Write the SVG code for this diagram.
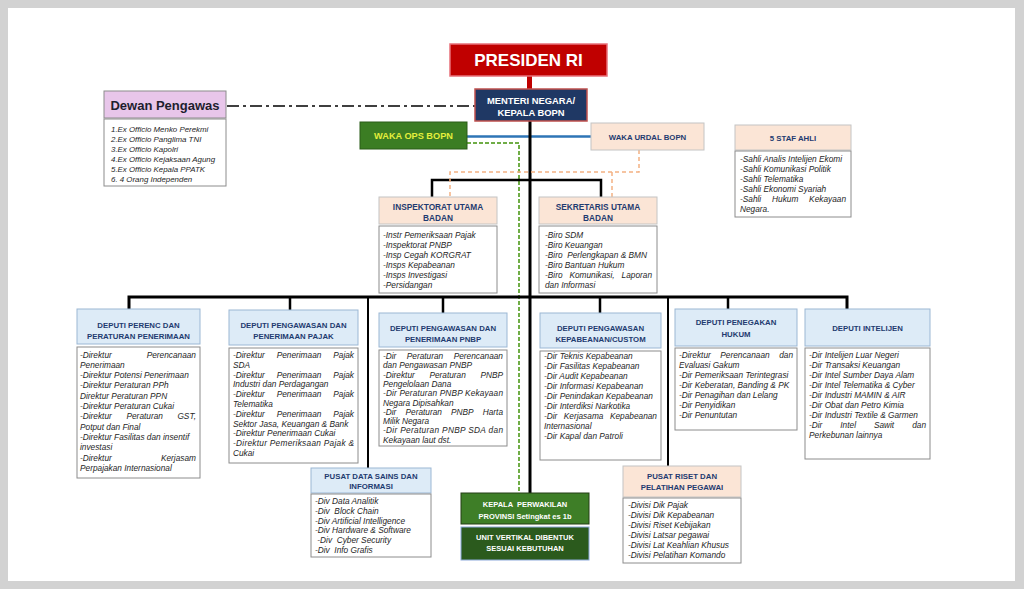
<svg xmlns="http://www.w3.org/2000/svg" width="1024" height="589" viewBox="0 0 1024 589">
<style>
.hb{fill:#ddebf7;stroke:#9bb7d4;stroke-width:1}
.hp{fill:#fbe5d6;stroke:#c4c4c4;stroke-width:1}
.lb{fill:#fff;stroke:#8c8c8c;stroke-width:1}
.ht{font-family:"Liberation Sans",Arial,sans-serif;font-weight:bold;font-size:7.8px;fill:#1f3b70;text-anchor:middle}
.ht2{font-family:"Liberation Sans",Arial,sans-serif;font-weight:bold;font-size:8.3px;fill:#1f3b70;text-anchor:middle}
.wt{font-family:"Liberation Sans",Arial,sans-serif;font-weight:bold;fill:#fff;text-anchor:middle}
.lt{font-family:"Liberation Sans",Arial,sans-serif;font-style:italic;font-size:8.3px;fill:#262626;white-space:pre}
.dl{font-family:"Liberation Sans",Arial,sans-serif;font-style:italic;font-size:7.9px;fill:#262626;white-space:pre}
.m{text-anchor:middle}
.e{text-anchor:end}
.k{stroke:#000;fill:none}
</style>
<rect x="0" y="0" width="1024" height="589" fill="#d2d2d2"/>
<rect x="8" y="8" width="1007" height="573" fill="#fff"/>

<g id="connectors">
  <line x1="529.5" y1="76" x2="529.5" y2="89" stroke="#c00000" stroke-width="5"/>
  <line x1="227" y1="106" x2="475" y2="106" stroke="#000" stroke-width="1.3" stroke-dasharray="12 4 3 4"/>
  <line x1="467" y1="136.5" x2="591" y2="136.5" stroke="#2e75b6" stroke-width="2.5"/>
  <line class="k" x1="530" y1="121" x2="530" y2="493" stroke-width="3"/>
  <polyline points="467,143 519,143 519,493" fill="none" stroke="#70ad47" stroke-width="2" stroke-dasharray="4 2"/>
  <polyline class="k" points="432,197 432,180 601,180 601,197" stroke-width="2.5"/>
  <polyline points="639,150 639,172 450,172 450,197" fill="none" stroke="#f4b183" stroke-width="1.5" stroke-dasharray="4 3"/>
  <line x1="612" y1="172" x2="612" y2="197" stroke="#f4b183" stroke-width="1.5" stroke-dasharray="4 3"/>
  <polyline class="k" points="129,309 129,297 847,297 847,309" stroke-width="3"/>
  <line class="k" x1="290" y1="297" x2="290" y2="310" stroke-width="2.5"/>
  <line class="k" x1="443" y1="297" x2="443" y2="313" stroke-width="2.5"/>
  <line class="k" x1="600" y1="297" x2="600" y2="313" stroke-width="2.5"/>
  <line class="k" x1="728" y1="297" x2="728" y2="309" stroke-width="2.5"/>
  <line class="k" x1="368" y1="297" x2="368" y2="468" stroke-width="2"/>
  <line class="k" x1="668" y1="297" x2="668" y2="466" stroke-width="2"/>
</g>

<g id="presiden">
  <rect x="450" y="44" width="157" height="32" fill="#c00000" stroke="#e8707a" stroke-width="1.5"/>
  <text class="wt" x="528.5" y="66" font-size="17">PRESIDEN RI</text>
</g>

<g id="menteri">
  <rect x="475" y="89" width="112" height="32" fill="#1f3864" stroke="#c0504d" stroke-width="1.5"/>
  <text class="wt" x="531" y="103.5" font-size="9.4">MENTERI NEGARA/</text>
  <text class="wt" x="531" y="115.5" font-size="9.4">KEPALA BOPN</text>
</g>

<g id="dewan">
  <rect x="104" y="91" width="122" height="27" fill="#e8c6ea" stroke="#8c8c8c"/>
  <text x="165" y="110" font-family="Liberation Sans,Arial,sans-serif" font-weight="bold" font-size="13" fill="#1e1e2e" text-anchor="middle">Dewan Pengawas</text>
  <rect class="lb" x="104" y="119" width="122" height="67"/>
  <text class="dl" x="111" y="132">1.Ex Officio Menko Perekmi</text>
  <text class="dl" x="111" y="142">2.Ex Officio Panglima TNI</text>
  <text class="dl" x="111" y="152">3.Ex Officio Kapolri</text>
  <text class="dl" x="111" y="162">4.Ex Officio Kejaksaan Agung</text>
  <text class="dl" x="111" y="172">5.Ex Officio Kepala PPATK</text>
  <text class="dl" x="111" y="182">6. 4 Orang Independen</text>
</g>

<g id="waka-ops">
  <rect x="360" y="122" width="107" height="27" fill="#3b7d23" stroke="#2a5c18"/>
  <text x="413.5" y="139" font-family="Liberation Sans,Arial,sans-serif" font-weight="bold" font-size="9.2" fill="#e4ef3c" text-anchor="middle">WAKA OPS BOPN</text>
</g>

<g id="waka-urdal">
  <rect class="hp" x="591" y="123" width="113" height="27"/>
  <text class="ht" x="647.5" y="140" font-size="9.5">WAKA URDAL BOPN</text>
</g>

<g id="staf-ahli">
  <rect class="hp" x="735" y="125" width="116" height="25"/>
  <text class="ht" x="793" y="141" font-size="8.5">5 STAF AHLI</text>
  <rect class="lb" x="735" y="151" width="116" height="66"/>
  <text class="lt" x="740" y="162">-Sahli Analis Intelijen Ekomi</text>
  <text class="lt" x="740" y="172">-Sahli Komunikasi Politik</text>
  <text class="lt" x="740" y="182">-Sahli Telematika</text>
  <text class="lt" x="740" y="192">-Sahli Ekonomi Syariah</text>
  <text class="lt" x="740" y="202">-Sahli</text><text class="lt m" x="785.2" y="202">Hukum</text><text class="lt e" x="846" y="202">Kekayaan</text>
  <text class="lt" x="740" y="212">Negara.</text>
</g>

<g id="inspektorat">
  <rect class="hp" x="379" y="197" width="118" height="27"/>
  <text class="ht2" x="438" y="209.5">INSPEKTORAT UTAMA</text>
  <text class="ht2" x="438" y="220.5">BADAN</text>
  <rect class="lb" x="379" y="226" width="118" height="67"/>
  <text class="lt" x="383" y="238">-Instr Pemeriksaan Pajak</text>
  <text class="lt" x="383" y="248">-Inspektorat PNBP</text>
  <text class="lt" x="383" y="258">-Insp Cegah KORGRAT</text>
  <text class="lt" x="383" y="268">-Insps Kepabeanan</text>
  <text class="lt" x="383" y="278">-Insps Investigasi</text>
  <text class="lt" x="383" y="288">-Persidangan</text>
</g>

<g id="sekretaris">
  <rect class="hp" x="539" y="197" width="118" height="27"/>
  <text class="ht2" x="598" y="209.5">SEKRETARIS UTAMA</text>
  <text class="ht2" x="598" y="220.5">BADAN</text>
  <rect class="lb" x="539" y="226" width="118" height="67"/>
  <text class="lt" x="545" y="238">-Biro SDM</text>
  <text class="lt" x="545" y="248">-Biro Keuangan</text>
  <text class="lt" x="545" y="258">-Biro  Perlengkapan &amp; BMN</text>
  <text class="lt" x="545" y="268">-Biro Bantuan Hukum</text>
  <text class="lt" x="545" y="278">-Biro</text><text class="lt m" x="592" y="278">Komunikasi,</text><text class="lt e" x="652" y="278">Laporan</text>
  <text class="lt" x="545" y="288">dan Informasi</text>
</g>

<g id="deputi-perenc">
  <rect class="hb" x="77" y="309" width="123" height="35"/>
  <text class="ht" x="138.5" y="327.5">DEPUTI PERENC DAN</text>
  <text class="ht" x="138.5" y="338.5">PERATURAN PENERIMAAN</text>
  <rect class="lb" x="77" y="347" width="123" height="131"/>
  <text class="lt" x="80" y="357.5">-Direktur</text><text class="lt e" x="196" y="357.5">Perencanaan</text>
  <text class="lt" x="80" y="367.8">Penerimaan</text>
  <text class="lt" x="80" y="378.1">-Direktur Potensi Penerimaan</text>
  <text class="lt" x="80" y="388.4">-Direktur Peraturan PPh</text>
  <text class="lt" x="80" y="398.7">Direktur Peraturan PPN</text>
  <text class="lt" x="80" y="409">-Direktur Peraturan Cukai</text>
  <text class="lt" x="80" y="419.3">-Direktur</text><text class="lt m" x="144.7" y="419.3">Peraturan</text><text class="lt e" x="196" y="419.3">GST,</text>
  <text class="lt" x="80" y="429.6">Potput dan Final</text>
  <text class="lt" x="80" y="439.9">-Direktur Fasilitas dan insentif</text>
  <text class="lt" x="80" y="450.2">investasi</text>
  <text class="lt" x="80" y="460.5">-Direktur</text><text class="lt e" x="196" y="460.5">Kerjasam</text>
  <text class="lt" x="80" y="470.8">Perpajakan Internasional</text>
</g>

<g id="deputi-pajak">
  <rect class="hb" x="229" y="310" width="129" height="35"/>
  <text class="ht" x="293.5" y="328">DEPUTI PENGAWASAN DAN</text>
  <text class="ht" x="293.5" y="339">PENERIMAAN PAJAK</text>
  <rect class="lb" x="229" y="348" width="129" height="115"/>
  <text class="lt" x="233" y="358">-Direktur</text><text class="lt m" x="299" y="358">Penerimaan</text><text class="lt e" x="354" y="358">Pajak</text>
  <text class="lt" x="233" y="367.8">SDA</text>
  <text class="lt" x="233" y="377.6">-Direktur</text><text class="lt m" x="299" y="377.6">Penerimaan</text><text class="lt e" x="354" y="377.6">Pajak</text>
  <text class="lt" x="233" y="387.4">Industri dan Perdagangan</text>
  <text class="lt" x="233" y="397.2">-Direktur</text><text class="lt m" x="299" y="397.2">Penerimaan</text><text class="lt e" x="354" y="397.2">Pajak</text>
  <text class="lt" x="233" y="407">Telematika</text>
  <text class="lt" x="233" y="416.8">-Direktur</text><text class="lt m" x="299" y="416.8">Penerimaan</text><text class="lt e" x="354" y="416.8">Pajak</text>
  <text class="lt" x="233" y="426.6">Sektor Jasa, Keuangan &amp; Bank</text>
  <text class="lt" x="233" y="436.4">-Direktur Penerimaan Cukai</text>
  <text class="lt" x="233" y="446.2" textLength="121" lengthAdjust="spacing">-Direktur Pemeriksaan Pajak &amp;</text>
  <text class="lt" x="233" y="456">Cukai</text>
</g>

<g id="deputi-pnbp">
  <rect class="hb" x="379" y="313" width="128" height="34"/>
  <text class="ht" x="443" y="330.5">DEPUTI PENGAWASAN DAN</text>
  <text class="ht" x="443" y="341.5">PENERIMAAN PNBP</text>
  <rect class="lb" x="379" y="350" width="128" height="96"/>
  <text class="lt" x="383" y="359">-Dir</text><text class="lt m" x="425" y="359">Peraturan</text><text class="lt e" x="503" y="359">Perencanaan</text>
  <text class="lt" x="383" y="368.3">dan Pengawasan PNBP</text>
  <text class="lt" x="383" y="377.6">-Direktur</text><text class="lt m" x="447.6" y="377.6">Peraturan</text><text class="lt e" x="503" y="377.6">PNBP</text>
  <text class="lt" x="383" y="386.9">Pengelolaan Dana</text>
  <text class="lt" x="383" y="396.2" textLength="120" lengthAdjust="spacing">-Dir Peraturan PNBP Kekayaan</text>
  <text class="lt" x="383" y="405.5">Negara Dipisahkan</text>
  <text class="lt" x="383" y="414.8">-Dir</text><text class="lt" x="405.5" y="414.8">Peraturan</text><text class="lt" x="451" y="414.8">PNBP</text><text class="lt e" x="503" y="414.8">Harta</text>
  <text class="lt" x="383" y="424.1">Milik Negara</text>
  <text class="lt" x="383" y="433.4" textLength="120" lengthAdjust="spacing">-Dir Peraturan PNBP SDA dan</text>
  <text class="lt" x="383" y="442.7">Kekayaan laut dst.</text>
</g>

<g id="deputi-kepabeanan">
  <rect class="hb" x="540" y="313" width="121" height="35"/>
  <text class="ht" x="600.5" y="330.5">DEPUTI PENGAWASAN</text>
  <text class="ht" x="600.5" y="341.5">KEPABEANAN/CUSTOM</text>
  <rect class="lb" x="540" y="351" width="121" height="109"/>
  <text class="lt" x="544" y="359">-Dir Teknis Kepabeanan</text>
  <text class="lt" x="544" y="369">-Dir Fasilitas Kepabeanan</text>
  <text class="lt" x="544" y="379">-Dir Audit Kepabeanan</text>
  <text class="lt" x="544" y="389">-Dir Informasi Kepabeanan</text>
  <text class="lt" x="544" y="399">-Dir Penindakan Kepabeanan</text>
  <text class="lt" x="544" y="409">-Dir Interdiksi Narkotika</text>
  <text class="lt" x="544" y="419">-Dir</text><text class="lt m" x="583.6" y="419">Kerjasama</text><text class="lt e" x="657" y="419">Kepabeanan</text>
  <text class="lt" x="544" y="429">Internasional</text>
  <text class="lt" x="544" y="439">-Dir Kapal dan Patroli</text>
</g>

<g id="deputi-penegakan">
  <rect class="hb" x="675" y="309" width="122" height="37"/>
  <text class="ht" x="736" y="325" font-size="9.5">DEPUTI PENEGAKAN</text>
  <text class="ht" x="736" y="337" font-size="9.5">HUKUM</text>
  <rect class="lb" x="675" y="348" width="122" height="82"/>
  <text class="lt" x="679" y="358">-Direktur</text><text class="lt m" x="745" y="358">Perencanaan</text><text class="lt e" x="793" y="358">dan</text>
  <text class="lt" x="679" y="368">Evaluasi Gakum</text>
  <text class="lt" x="679" y="378">-Dir Pemeriksaan Terintegrasi</text>
  <text class="lt" x="679" y="388">-Dir Keberatan, Banding &amp; PK</text>
  <text class="lt" x="679" y="398">-Dir Penagihan dan Lelang</text>
  <text class="lt" x="679" y="408">-Dir Penyidikan</text>
  <text class="lt" x="679" y="418">-Dir Penuntutan</text>
</g>

<g id="deputi-intelijen">
  <rect class="hb" x="805" y="309" width="125" height="37"/>
  <text class="ht" x="867.5" y="330.5">DEPUTI INTELIJEN</text>
  <rect class="lb" x="805" y="348" width="125" height="111"/>
  <text class="lt" x="809" y="358">-Dir Intelijen Luar Negeri</text>
  <text class="lt" x="809" y="368">-Dir Transaksi Keuangan</text>
  <text class="lt" x="809" y="378">-Dir Intel Sumber Daya Alam</text>
  <text class="lt" x="809" y="388">-Dir Intel Telematika &amp; Cyber</text>
  <text class="lt" x="809" y="398">-Dir Industri MAMIN &amp; AIR</text>
  <text class="lt" x="809" y="408">-Dir Obat dan Petro Kimia</text>
  <text class="lt" x="809" y="418">-Dir Industri Textile &amp; Garmen</text>
  <text class="lt" x="809" y="428">-Dir</text><text class="lt" x="840.3" y="428">Intel</text><text class="lt" x="873.9" y="428">Sawit</text><text class="lt e" x="926" y="428">dan</text>
  <text class="lt" x="809" y="438">Perkebunan lainnya</text>
</g>

<g id="pusat-data">
  <rect class="hb" x="311" y="468" width="120" height="25"/>
  <text class="ht" x="371" y="478.5">PUSAT DATA SAINS DAN</text>
  <text class="ht" x="371" y="489">INFORMASI</text>
  <rect class="lb" x="311" y="494" width="120" height="63"/>
  <text class="lt" x="315" y="504">-Div Data Analitik</text>
  <text class="lt" x="315" y="513.8">-Div  Block Chain</text>
  <text class="lt" x="315" y="523.6">-Div Artificial Intelligence</text>
  <text class="lt" x="315" y="533.4">-Div Hardware &amp; Software</text>
  <text class="lt" x="315" y="543.2"> -Div  Cyber Security</text>
  <text class="lt" x="315" y="553">-Div  Info Grafis</text>
</g>

<g id="kepala-perwakilan">
  <rect x="461" y="493" width="128" height="31" fill="#3e7e27" stroke="#243f17"/>
  <text class="wt" x="525" y="507" font-size="7.5" style="white-space:pre">KEPALA  PERWAKILAN</text>
  <text class="wt" x="525" y="518.5" font-size="7.5">PROVINSI Setingkat es 1b</text>
</g>

<g id="unit-vertikal">
  <rect x="461" y="527" width="128" height="33" fill="#2b5a1d" stroke="#8eaadb"/>
  <text class="wt" x="525" y="540" font-size="7.5">UNIT VERTIKAL DIBENTUK</text>
  <text class="wt" x="525" y="551" font-size="7.5">SESUAI KEBUTUHAN</text>
</g>

<g id="pusat-riset">
  <rect class="hp" x="623" y="466" width="118" height="31"/>
  <text class="ht" x="682" y="479">PUSAT RISET DAN</text>
  <text class="ht" x="682" y="490">PELATIHAN PEGAWAI</text>
  <rect class="lb" x="623" y="498" width="118" height="65"/>
  <text class="lt" x="628" y="508">-Divisi Dik Pajak</text>
  <text class="lt" x="628" y="517.9">-Divisi Dik Kepabeanan</text>
  <text class="lt" x="628" y="527.8">-Divisi Riset Kebijakan</text>
  <text class="lt" x="628" y="537.7">-Divisi Latsar pegawai</text>
  <text class="lt" x="628" y="547.6">-Divisi Lat Keahlian Khusus</text>
  <text class="lt" x="628" y="557.5">-Divisi Pelatihan Komando</text>
</g>
</svg>
